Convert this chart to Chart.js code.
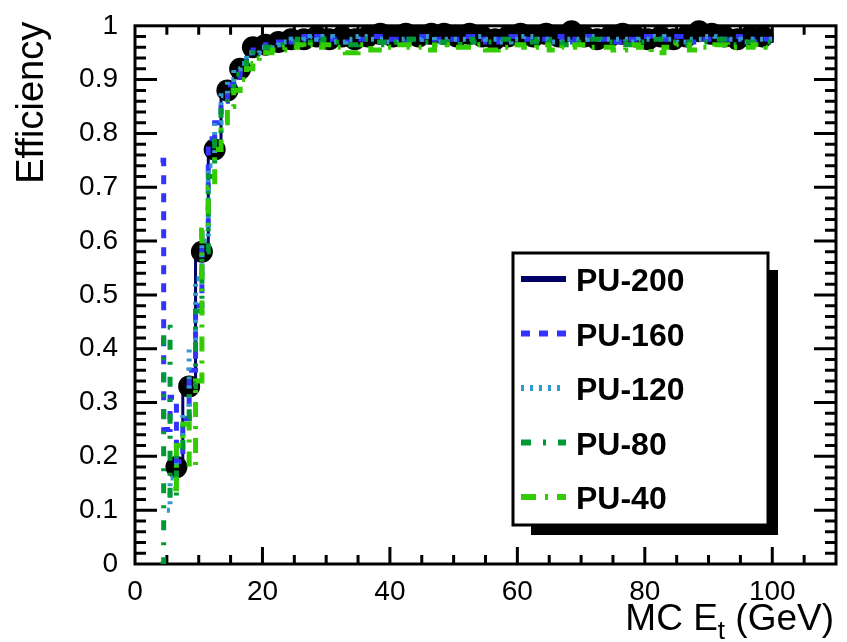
<!DOCTYPE html>
<html>
<head>
<meta charset="utf-8">
<script src="https://cdn.jsdelivr.net/npm/chart.js@4.4.1/dist/chart.umd.min.js"></script>
<style>
  html, body { margin: 0; padding: 0; background: #fff; }
  #wrap { width: 847px; height: 642px; }
</style>
</head>
<body>
<div id="wrap"><canvas id="effChart" width="847" height="642"></canvas></div>
<script>
// --- Data ---
// bin centres in GeV: 1 GeV bins through the turn-on, 2 GeV bins on the plateau
const binCenters = [4, 5, 6, 7, 8, 9, 10, 11, 12, 13, 14, 15, 16, 17, 18, 19, 20, 21, 22, 23, 24, 25, 26, 27, 28, 29, 30,
  32, 34, 36, 38, 40, 42, 44, 46, 48, 50, 52, 54, 56, 58, 60, 62, 64, 66, 68, 70, 72, 74, 76, 78, 80,
  82, 84, 86, 88, 90, 92, 94, 96, 98, 100];

const pu160 = [0.75, 0.25, 0.31, 0.19, 0.27, 0.36, 0.48, 0.62, 0.79, 0.82, 0.86, 0.89, 0.90, 0.92, 0.95, 0.955, 0.96, 0.965, 0.965, 0.97, 0.975, 0.97, 0.975, 0.98, 0.975, 0.98, 0.98,
  0.975, 0.97, 0.975, 0.98, 0.975, 0.97, 0.975, 0.98, 0.975, 0.975, 0.98, 0.975, 0.97, 0.975, 0.98, 0.975, 0.975, 0.98, 0.97, 0.975, 0.98, 0.975, 0.97, 0.975, 0.98, 0.975, 0.975, 0.98, 0.97, 0.975, 0.975, 0.98, 0.975, 0.97, 0.975];

const pu120 = [null, 0.10, 0.16, 0.22, 0.28, 0.40, 0.53, 0.60, 0.74, 0.82, 0.87, 0.90, 0.92, 0.93, 0.95, 0.95, 0.96, 0.96, 0.965, 0.97, 0.97, 0.975, 0.97, 0.975, 0.98, 0.975, 0.98,
  0.97, 0.975, 0.98, 0.975, 0.97, 0.975, 0.975, 0.98, 0.97, 0.975, 0.975, 0.98, 0.975, 0.97, 0.975, 0.98, 0.975, 0.97, 0.975, 0.975, 0.98, 0.975, 0.975, 0.97, 0.975, 0.98, 0.975, 0.97, 0.975, 0.98, 0.975, 0.975, 0.97, 0.975, 0.975];

const pu80 = [0, 0.44, 0.12, 0.20, 0.27, 0.33, 0.47, 0.58, 0.72, 0.80, 0.85, 0.88, 0.91, 0.92, 0.94, 0.95, 0.955, 0.96, 0.96, 0.965, 0.97, 0.97, 0.975, 0.97, 0.975, 0.97, 0.975,
  0.97, 0.965, 0.975, 0.97, 0.965, 0.97, 0.975, 0.97, 0.97, 0.965, 0.975, 0.97, 0.97, 0.975, 0.965, 0.97, 0.975, 0.97, 0.965, 0.97, 0.975, 0.97, 0.97, 0.965, 0.97, 0.975, 0.97, 0.965, 0.97, 0.97, 0.975, 0.965, 0.97, 0.97, 0.97];

const pu40 = [null, null, 0.14, 0.22, 0.26, 0.18, 0.34, 0.62, 0.70, 0.77, 0.82, 0.85, 0.88, 0.90, 0.92, 0.93, 0.94, 0.95, 0.955, 0.955, 0.96, 0.96, 0.965, 0.96, 0.965, 0.96, 0.965,
  0.96, 0.95, 0.965, 0.955, 0.96, 0.965, 0.96, 0.955, 0.965, 0.96, 0.96, 0.965, 0.955, 0.96, 0.965, 0.96, 0.965, 0.955, 0.96, 0.965, 0.96, 0.96, 0.955, 0.965, 0.96, 0.95, 0.96, 0.965, 0.955, 0.96, 0.965, 0.96, 0.96, 0.965, 0.96];

// PU-200 is drawn with big markers on 2 GeV bins
const pu200X = [6.5, 8.5, 10.5, 12.5, 14.5, 16.5, 18.5, 20.5, 22.5, 24.5, 26.5, 28.5, 30.5, 32.5, 34.5, 36.5, 38.5, 40.5, 42.5, 44.5, 46.5, 48.5, 50.5, 52.5,
  54.5, 56.5, 58.5, 60.5, 62.5, 64.5, 66.5, 68.5, 70.5, 72.5, 74.5, 76.5, 78.5, 80.5, 82.5, 84.5, 86.5, 88.5, 90.5, 92.5, 94.5, 96.5, 98.5];
const pu200 = [0.18, 0.33, 0.58, 0.77, 0.88, 0.92, 0.96, 0.965, 0.97, 0.975, 0.975, 0.98, 0.975,
  0.98, 0.975, 0.98, 0.985, 0.98, 0.985, 0.98, 0.985, 0.985, 0.98, 0.985, 0.98, 0.975, 0.98, 0.985, 0.98, 0.985, 0.98, 0.99, 0.98, 0.975, 0.98, 0.985, 0.98, 0.975, 0.98, 0.975, 0.98, 0.99, 0.985, 0.98, 0.975, 0.98, 0.98];

const seriesLabels = ["PU-200", "PU-160", "PU-120", "PU-80", "PU-40"];
const xTickValues = [0, 20, 40, 60, 80, 100];
const yTickValues = [0, 0.1, 0.2, 0.3, 0.4, 0.5, 0.6, 0.7, 0.8, 0.9, 1];

const FONT = "'Liberation Sans', Arial, Helvetica, sans-serif";
Chart.defaults.font.family = FONT;
Chart.defaults.color = "#000";

const histPoints = (values) => binCenters.map((x, i) => ({ x: x, y: values[i] }));

const histStyle = (label, color, dash, order) => ({
  label: label,
  borderColor: color,
  backgroundColor: color,
  borderWidth: 5,
  borderDash: dash,
  stepped: "middle",
  pointRadius: 0,
  pointHoverRadius: 0,
  fill: false,
  order: order,
});

// --- ROOT-like frame, inner ticks, titles and legend ---
const rootDecor = {
  id: "rootDecor",
  beforeDatasetsDraw(chart) {
    const { ctx, chartArea: a, scales } = chart;
    const x = scales.x;
    const y = scales.y;
    ctx.save();
    ctx.strokeStyle = "#000";
    ctx.lineWidth = 3;
    ctx.beginPath();
    // y ticks: major every 0.1, minor every 0.02
    for (let i = 1; i < 50; i++) {
      const py = y.getPixelForValue(i * 0.02);
      const len = i % 5 === 0 ? 22 : 11;
      ctx.moveTo(a.left, py);
      ctx.lineTo(a.left + len, py);
      ctx.moveTo(a.right, py);
      ctx.lineTo(a.right - len, py);
    }
    // x ticks: major every 20, minor every 5
    for (let i = 1; i < 22; i++) {
      const px = x.getPixelForValue(i * 5);
      const len = (i * 5) % 20 === 0 ? 17 : 9;
      ctx.moveTo(px, a.bottom);
      ctx.lineTo(px, a.bottom - len);
      ctx.moveTo(px, a.top);
      ctx.lineTo(px, a.top + len);
    }
    ctx.stroke();
    ctx.strokeRect(a.left, a.top, a.right - a.left, a.bottom - a.top);
    ctx.restore();
  },
  afterDraw(chart) {
    const { ctx, chartArea: a } = chart;
    ctx.save();
    ctx.fillStyle = "#000";

    // y title, aligned to the top of the axis
    ctx.font = "38px " + FONT;
    ctx.translate(43, a.top - 4);
    ctx.rotate(-Math.PI / 2);
    ctx.textAlign = "right";
    ctx.textBaseline = "alphabetic";
    ctx.fillText("Efficiency", 0, 0);
    ctx.setTransform(1, 0, 0, 1, 0, 0);

    // x title "MC E_t (GeV)", aligned to the right end of the axis
    const big = "37px " + FONT;
    const small = "26px " + FONT;
    const base = 630;
    ctx.textAlign = "left";
    ctx.font = big;
    const w1 = ctx.measureText("MC E").width;
    const w3 = ctx.measureText(" (GeV)").width;
    ctx.font = small;
    const w2 = ctx.measureText("t").width;
    let tx = a.right - 2 - (w1 + w2 + w3);
    ctx.font = big;
    ctx.fillText("MC E", tx, base);
    tx += w1;
    ctx.font = small;
    ctx.fillText("t", tx, base + 9);
    tx += w2;
    ctx.font = big;
    ctx.fillText(" (GeV)", tx, base);

    // legend box with a ROOT-style shadow (right and bottom strips)
    const box = { l: 513, t: 253, r: 768, b: 525 };
    const sh = 10;
    ctx.fillRect(box.r, box.t + 17, sh, box.b - box.t - 17 + sh);
    ctx.fillRect(box.l + 18, box.b, box.r - box.l - 18 + sh, sh);
    ctx.fillStyle = "#fff";
    ctx.fillRect(box.l, box.t, box.r - box.l, box.b - box.t);
    ctx.strokeStyle = "#000";
    ctx.lineWidth = 3;
    ctx.strokeRect(box.l, box.t, box.r - box.l, box.b - box.t);

    ctx.font = "bold 32px " + FONT;
    chart.data.datasets.forEach((ds, i) => {
      const rowY = 279 + i * 54.5;
      ctx.save();
      ctx.strokeStyle = ds.borderColor;
      ctx.lineWidth = 6;
      ctx.setLineDash(ds.legendDash || []);
      ctx.beginPath();
      ctx.moveTo(521, rowY);
      ctx.lineTo(566, rowY);
      ctx.stroke();
      ctx.restore();
      ctx.fillStyle = "#000";
      ctx.fillText(ds.label, 576, rowY + 12);
    });
    ctx.restore();
  },
};

const ctx = document.getElementById("effChart");

new Chart(ctx, {
  type: "line",
  data: {
    datasets: [
      {
        label: seriesLabels[0],
        data: pu200X.map((x, i) => ({ x: x, y: pu200[i] })),
        borderColor: "#000066",
        borderWidth: 3,
        stepped: "middle",
        pointRadius: 11,
        pointHoverRadius: 11,
        pointBackgroundColor: "#000",
        pointBorderColor: "#000",
        pointBorderWidth: 0,
        fill: false,
        order: 10,
        clip: false,
        legendDash: [],
      },
      Object.assign(histStyle(seriesLabels[1], "#3333ff", [9, 9], 4), { data: histPoints(pu160), legendDash: [9, 9] }),
      Object.assign(histStyle(seriesLabels[2], "#3399cc", [3, 6], 3), { data: histPoints(pu120), legendDash: [3, 6] }),
      Object.assign(histStyle(seriesLabels[3], "#009933", [10, 12, 3, 12], 2), { data: histPoints(pu80), legendDash: [10, 12, 3, 12] }),
      Object.assign(histStyle(seriesLabels[4], "#33cc00", [15, 9, 3, 9], 1), { data: histPoints(pu40), legendDash: [15, 9, 3, 9] }),
    ],
  },
  options: {
    responsive: false,
    animation: false,
    events: [],
    layout: { padding: { top: 19, right: 7, bottom: 0, left: 0 } },
    plugins: {
      legend: { display: false },
      tooltip: { enabled: false },
    },
    scales: {
      x: {
        type: "linear",
        min: 0,
        max: 110,
        grid: { display: false },
        border: { display: false },
        afterBuildTicks: (s) => { s.ticks = xTickValues.map((v) => ({ value: v })); },
        afterFit: (s) => { s.height = 78; },
        ticks: {
          font: { size: 28 },
          padding: 3,
          maxRotation: 0,
          callback: (v) => String(v),
        },
      },
      y: {
        type: "linear",
        min: 0,
        max: 1,
        grid: { display: false },
        border: { display: false },
        afterBuildTicks: (s) => { s.ticks = yTickValues.map((v) => ({ value: v })); },
        afterFit: (s) => { s.width = 135; },
        ticks: {
          font: { size: 28 },
          padding: 9,
          callback: (v) => String(v),
        },
      },
    },
  },
  plugins: [rootDecor],
});
</script>
</body>
</html>
